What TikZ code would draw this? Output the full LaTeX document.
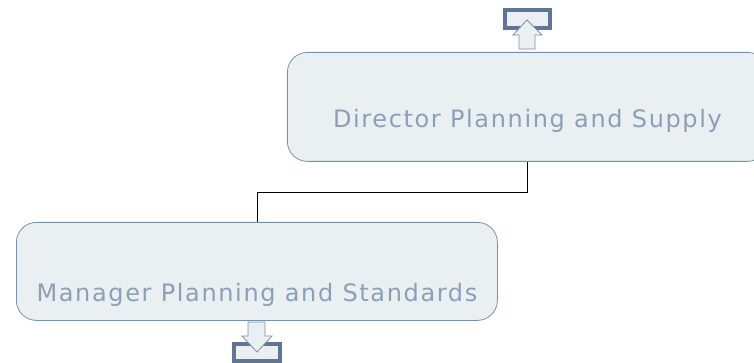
\documentclass[tikz,border=0pt]{standalone}
\usepackage{fontspec}
\setmainfont{DejaVu Sans}
\newfontfamily\postfont[LetterSpace=6.8]{DejaVu Sans}
\usepackage{tikz}
\usetikzlibrary{positioning}
\definecolor{boxfill}{HTML}{EAEFF2}
\definecolor{boxline}{HTML}{7A8FAE}
\definecolor{boxtext}{HTML}{8C9FB6}
\definecolor{iconline}{HTML}{5E7596}

\begin{document}
\begin{tikzpicture}[x=1pt, y=-1pt,
   post/.style={draw=boxline, fill=boxfill, rounded corners=20pt, line width=0.8pt,
                inner xsep=0pt, inner ysep=0pt, text=boxtext,
                font=\postfont\fontsize{24}{28}\selectfont},
   frame/.style={draw=iconline, fill=boxfill, line width=3.5pt},
   uparrow/.style={draw=boxline, fill=boxfill, line width=0.8pt, line join=miter},
   link/.style={draw=black, line width=0.7pt}]
  \clip (0,0) rectangle (754,363);
  % posts
  \node[post, minimum width=480pt, text height=75pt, text depth=34pt,
        anchor=north west] (dir) at (287,52) {Director Planning and Supply};
  \node[post, minimum width=481pt, text height=79pt, text depth=19pt,
        anchor=north west] (mgr) at (16,222) {Manager Planning and Standards};
  % reporting line
  \draw[link] (dir.south) |- ([yshift=30pt]mgr.north) -- (mgr.north);
  % upward link icon
  \draw[frame] (505,10) rectangle (550,28);
  \draw[uparrow] (519,49) -- (519,35) -- (513,35) -- (527,20) -- (542,35)
                 -- (535,35) -- (535,49) -- cycle;
  % downward link icon
  \draw[frame] (234,344) rectangle (280,361);
  \draw[uparrow] (248,322) -- (248,336) -- (242,336) -- (257,352) -- (272,336)
                 -- (265,336) -- (265,322) -- cycle;
\end{tikzpicture}
\end{document}
